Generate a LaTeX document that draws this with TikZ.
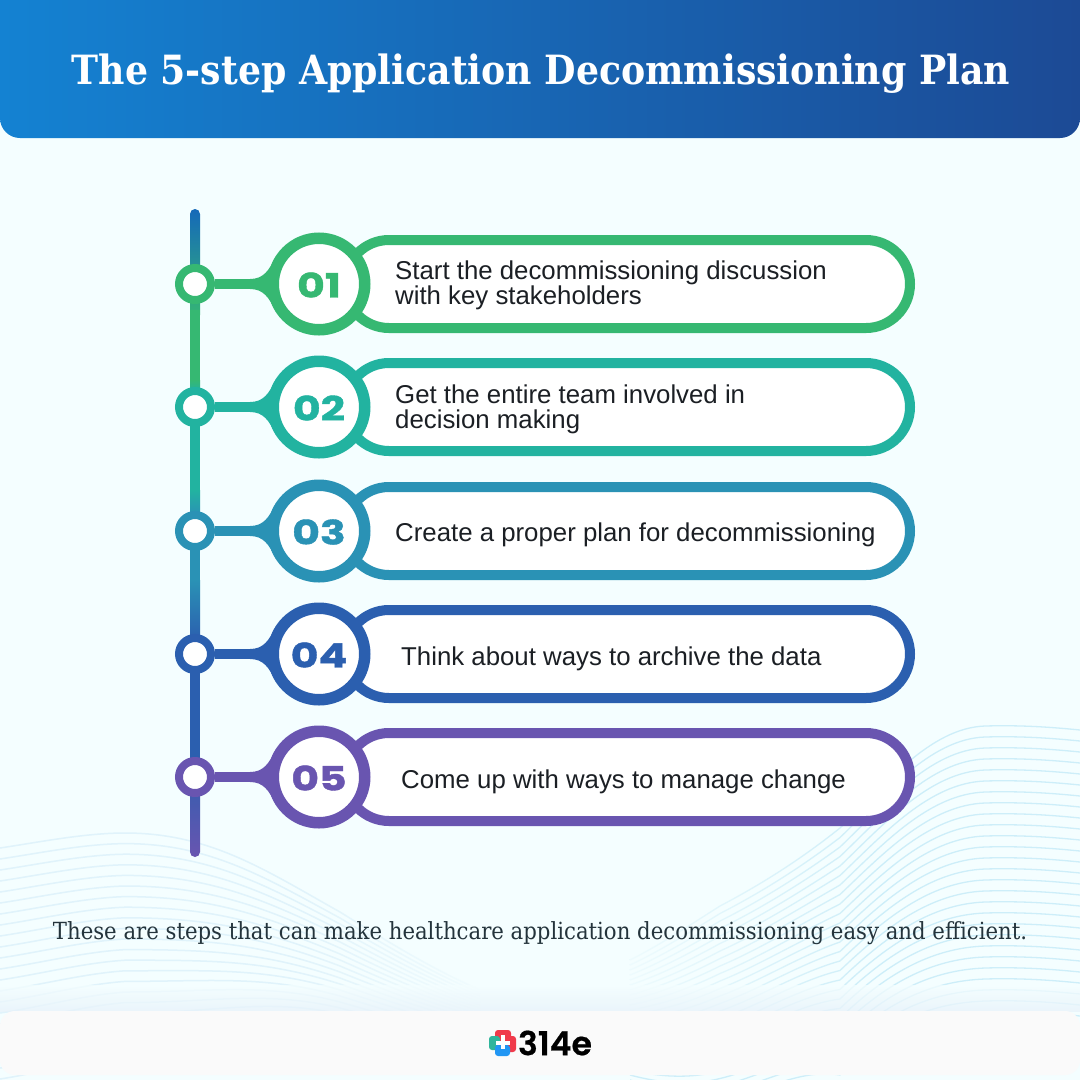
\documentclass[tikz,border=0pt]{standalone}
\usepackage{fontspec}
\usetikzlibrary{fadings}
\setmainfont{DejaVu Serif Condensed}
\newfontfamily\bodyf{Liberation Sans}
\newfontfamily\numf[FakeStretch=1.27,BoldFont={Poppins Bold},BoldFeatures={FakeBold=1.2}]{Poppins}
\newfontfamily\logof[BoldFont={Poppins SemiBold},BoldFeatures={FakeBold=.6}]{Poppins}
\definecolor{bgc}{HTML}{F4FEFF}
\definecolor{cA}{HTML}{36B872}
\definecolor{cB}{HTML}{22B3A0}
\definecolor{cC}{HTML}{2A92B5}
\definecolor{cD}{HTML}{2B5FAF}
\definecolor{cE}{HTML}{6955B0}
\definecolor{wave}{HTML}{CDEEF9}
\definecolor{waveL}{HTML}{E0F3FB}
\definecolor{txt}{HTML}{1B1F24}
\definecolor{foot}{HTML}{24343C}
\definecolor{hdrA}{HTML}{1482D2}
\definecolor{hdrB}{HTML}{1C4A95}
\definecolor{spA}{HTML}{1569B9}
\definecolor{mist}{HTML}{E7F2FA}
\definecolor{logoR}{HTML}{F03A4A}
\definecolor{logoT}{HTML}{2FB59B}
\definecolor{logoB}{HTML}{2196F3}
\tikzset{
  stepbody/.style={font=\bodyf\fontsize{25.8}{25}\selectfont,text=txt,anchor=west,align=left,inner sep=0pt},
  stepnum/.style={font=\numf\bfseries\fontsize{33.5}{33.5}\selectfont,inner sep=0pt},
  waveline/.style={draw=wave,line width=1.3pt},
  wavelineL/.style={draw=waveL,line width=1.5pt},
}
\newcommand{\steprow}[6]{%
  \fill[#2] (250,#1-5) .. controls (263,#1-5) and (269,#1-13) .. (276,#1-28)
     -- (276,#1+28) .. controls (269,#1+13) and (263,#1+5) .. (250,#1+5) -- cycle;
  \draw[#2,line width=10pt] (215,#1) -- (260,#1);
  \node[circle,draw=#2,line width=8pt,fill=white,minimum size=32pt,inner sep=0pt] (j#3) at (195,#1) {};
  \draw[#2,line width=10pt,fill=white,rounded corners=44pt] (345,#1-44) rectangle (910,#1+44);
  \node[circle,draw=#2,line width=11.5pt,fill=white,minimum size=91.5pt,inner sep=0pt] (c#3) at (319,#1) {};
  \node[stepnum,text=#2] (n#3) at (319,#1+1) {#3};
  \node[stepbody] (t#3) at (#4,#1+#6) {#5};
}
\begin{document}
\begin{tikzpicture}[x=1pt,y=-1pt]
\useasboundingbox (0,0) rectangle (1080,1080);
\fill[bgc] (0,0) rectangle (1080,1080);
% waves
\begin{scope}
\clip (0,700) rectangle (1080,1080);
\foreach \i in {0,...,21}{
  \draw[wavelineL] (0,{848+\i*11}) .. controls (40,{842+\i*11}) and (85,{833+\i*10.8}) .. (125,{833+\i*10.6})
     .. controls (210,{833+\i*10.6}) and (265,{870+\i*7.5}) .. (340,{912+\i*6})
     .. controls (385,{940+\i*5}) and (430,{968+\i*4}) .. (480,{990+\i*3});
}
\foreach \i in {0,...,26}{
  \draw[waveline] (1080,{730+\i*11}) .. controls (1050,{727+\i*11}) and (1020,{725+\i*11}) .. (985,{726+\i*11})
     .. controls (930,{728+\i*11}) and (885,{785+\i*9.5}) .. (840,{828+\i*9.5})
     .. controls (800,{860+\i*8}) and (760,{885+\i*8}) .. (720,{906+\i*7.5})
     .. controls (690,{925+\i*7}) and (660,{945+\i*6}) .. (630,{960+\i*5});
}
\end{scope}
\fill[bgc,path fading=east,fill opacity=.85] (630,700) rectangle (880,1011);
\fill[bgc,path fading=west,fill opacity=.9] (290,820) rectangle (490,1011);
\shade[top color=bgc,bottom color=mist,shading angle=0,opacity=.75] (0,985) rectangle (1080,1011);
% header
\begin{scope}
\clip (0,0) rectangle (1080,138);
\shade[left color=hdrA,right color=hdrB,rounded corners=20pt] (0,-40) rectangle (1080,138);
\end{scope}
\node[font=\bfseries\fontsize{40.3}{41}\selectfont,text=white,inner sep=0pt] (title) at (541,74) {The 5-step Application Decommissioning Plan};
% spine
\shade[top color=spA,bottom color=cA,rounded corners=5pt] (190,209) rectangle (200,320);
\fill[cA] (190,310) rectangle (200,385);
\shade[top color=cA,bottom color=cB] (190,380) rectangle (200,392);
\fill[cB] (190,392) rectangle (200,500);
\shade[top color=cB,bottom color=cC] (190,490) rectangle (200,515);
\fill[cC] (190,515) rectangle (200,580);
\shade[top color=cC,bottom color=cD] (190,580) rectangle (200,640);
\fill[cD] (190,640) rectangle (200,770);
\shade[top color=cD,bottom color=cE,rounded corners=5pt] (190,760) rectangle (200,857);
\steprow{284}{cA}{01}{395}{Start the decommissioning discussion\\with key stakeholders}{1}
\steprow{407}{cB}{02}{395}{Get the entire team involved in\\decision making}{2}
\steprow{531}{cC}{03}{395}{Create a proper plan for decommissioning}{4}
\steprow{654}{cD}{04}{401}{Think about ways to archive the data}{5}
\steprow{777}{cE}{05}{401}{Come up with ways to manage change}{5}
\node[font=\fontsize{23.6}{24}\selectfont,text=foot,inner sep=0pt] (foot) at (540,933) {These are steps that can make healthcare application decommissioning easy and efficient.};
% footer bar
\fill[black!2,rounded corners=15pt] (0,1011) rectangle (1080,1075);
% logo
\fill[logoR,rounded corners=3pt] (495,1030) rectangle (511,1048);
\fill[logoR,rounded corners=3pt] (500,1036) rectangle (516,1052);
\fill[logoT,rounded corners=3pt] (489,1036) rectangle (500,1050);
\fill[logoB,rounded corners=3pt] (495,1045) rectangle (510,1056);
\fill[white] (501,1035) rectangle (505,1049);
\fill[white] (496,1040.5) rectangle (510,1044.5);
\node[font=\logof\bfseries\fontsize{33}{33}\selectfont,text=black,inner sep=0pt] (logo) at (555,1043) {314e};
\end{tikzpicture}
\end{document}
